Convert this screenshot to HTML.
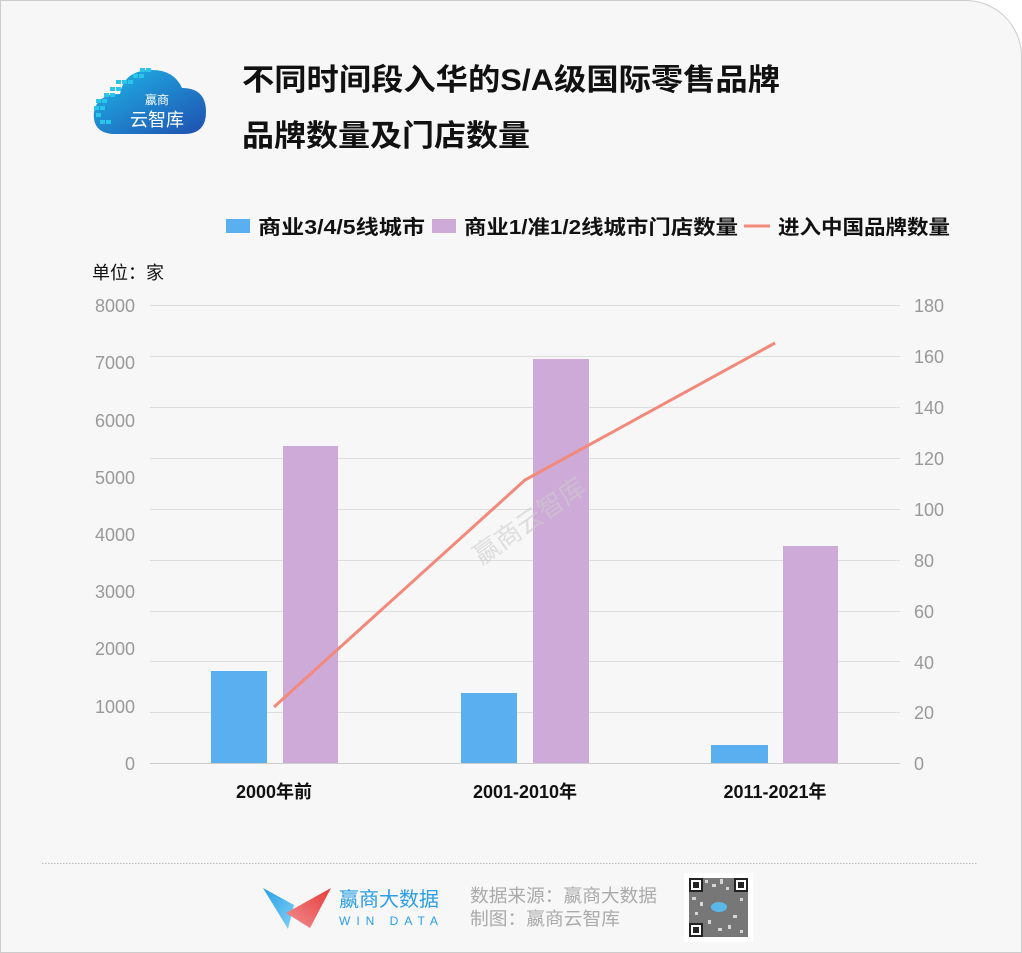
<!DOCTYPE html>
<html><head><meta charset="utf-8"><style>
html,body{margin:0;padding:0;background:#fff}
svg{display:block}
text{font-family:"Liberation Sans","Noto Sans CJK SC",sans-serif}
.t{font-family:"Liberation Sans Narrow","Liberation Sans","Noto Sans CJK SC",sans-serif;fill:#999;font-size:18px}
</style></head><body>
<svg width="1022" height="953" viewBox="0 0 1022 953" xmlns="http://www.w3.org/2000/svg">
<defs>
<linearGradient id="cg" x1="0" y1="0" x2="1" y2="1"><stop offset="0" stop-color="#1fb8e8"/><stop offset="1" stop-color="#1f4fb0"/></linearGradient>
<linearGradient id="lb" x1="0" y1="0" x2="1" y2="1"><stop offset="0" stop-color="#2a9ee6"/><stop offset="1" stop-color="#7fd0f5"/></linearGradient>
<linearGradient id="lr" x1="1" y1="0" x2="0" y2="1"><stop offset="0" stop-color="#e83a3a"/><stop offset="1" stop-color="#f09090"/></linearGradient>
</defs>
<path d="M0.5 0.5 H965 A56 56 0 0 1 1021.5 56 V952.5 H0.5 Z" fill="#f7f7f7" stroke="#ccc"/>
<g>
<path d="M112 134 Q92 132 94 112 Q97 94 120 94 Q124 70 152 70 Q174 70 182 88 Q206 88 206 112 Q206 134 184 134 Z" fill="url(#cg)"/>
<g fill="#2bc4ea">
<rect x="140" y="68" width="5" height="4"/><rect x="146" y="68" width="5" height="4"/><rect x="133" y="74" width="5" height="4"/><rect x="139" y="74" width="5" height="4"/>
<rect x="116" y="80" width="5" height="4"/><rect x="122" y="80" width="5" height="4"/><rect x="128" y="80" width="5" height="4"/><rect x="110" y="87" width="5" height="4"/><rect x="116" y="87" width="5" height="4"/><rect x="104" y="93" width="5" height="4"/><rect x="110" y="93" width="5" height="4"/><rect x="96" y="99" width="5" height="4"/><rect x="102" y="99" width="5" height="4"/><rect x="94" y="106" width="5" height="4"/><rect x="100" y="106" width="5" height="4"/><rect x="96" y="113" width="5" height="4"/><rect x="100" y="120" width="5" height="4"/><rect x="106" y="120" width="5" height="4"/>
</g>
<text x="145" y="104" font-size="12" fill="#fff">嬴商</text>
<text x="130" y="126" font-size="18" fill="#fff">云智库</text>
</g>
<text x="242" y="90" font-size="30" font-weight="bold" fill="#111" textLength="538" lengthAdjust="spacingAndGlyphs">不同时间段入华的S/A级国际零售品牌</text>
<text x="242" y="146" font-size="30" font-weight="bold" fill="#111" textLength="288" lengthAdjust="spacingAndGlyphs">品牌数量及门店数量</text>
<rect x="226" y="219" width="24" height="14" fill="#5aaff0"/>
<text x="258" y="234" font-size="20" font-weight="bold" fill="#111" textLength="167" lengthAdjust="spacingAndGlyphs">商业3/4/5线城市</text>
<rect x="432" y="219" width="24" height="14" fill="#ceaad8"/>
<text x="464" y="234" font-size="20" font-weight="bold" fill="#111" textLength="274" lengthAdjust="spacingAndGlyphs">商业1/准1/2线城市门店数量</text>
<line x1="744" y1="226" x2="770" y2="226" stroke="#f2897a" stroke-width="3"/>
<text x="778" y="234" font-size="20" font-weight="bold" fill="#111" textLength="172" lengthAdjust="spacingAndGlyphs">进入中国品牌数量</text>
<text x="92" y="279" font-size="18" fill="#111">单位：家</text>
<g stroke="#ddd" stroke-width="1">
<line x1="150" y1="305.5" x2="900" y2="305.5"/><line x1="150" y1="356.5" x2="900" y2="356.5"/><line x1="150" y1="407.5" x2="900" y2="407.5"/><line x1="150" y1="458.5" x2="900" y2="458.5"/><line x1="150" y1="509.5" x2="900" y2="509.5"/><line x1="150" y1="560.5" x2="900" y2="560.5"/><line x1="150" y1="611.5" x2="900" y2="611.5"/><line x1="150" y1="661.5" x2="900" y2="661.5"/><line x1="150" y1="712.5" x2="900" y2="712.5"/>
</g>
<line x1="150" y1="763.5" x2="900" y2="763.5" stroke="#ccc"/>
<g text-anchor="end">
<text x="135" y="312" class="t">8000</text><text x="135" y="369" class="t">7000</text><text x="135" y="427" class="t">6000</text><text x="135" y="484" class="t">5000</text><text x="135" y="541" class="t">4000</text><text x="135" y="598" class="t">3000</text><text x="135" y="655" class="t">2000</text><text x="135" y="713" class="t">1000</text><text x="135" y="770" class="t">0</text>
</g>
<g>
<text x="914" y="312" class="t">180</text><text x="914" y="363" class="t">160</text><text x="914" y="414" class="t">140</text><text x="914" y="465" class="t">120</text><text x="914" y="516" class="t">100</text><text x="914" y="567" class="t">80</text><text x="914" y="618" class="t">60</text><text x="914" y="669" class="t">40</text><text x="914" y="719" class="t">20</text><text x="914" y="770" class="t">0</text>
</g>
<g fill="#5aaff0"><rect x="211" y="671" width="56" height="92"/><rect x="461" y="693" width="56" height="70"/><rect x="711" y="745" width="57" height="18"/></g>
<g fill="#ceaad8"><rect x="283" y="446" width="55" height="317"/><rect x="533" y="359" width="56" height="404"/><rect x="783" y="546" width="55" height="217"/></g>
<text x="426" y="530" font-size="26" fill="#ccc" opacity="0.6" transform="rotate(-35 510 460)">嬴商云智库</text>
<polyline points="274,707 525,480 775,343" fill="none" stroke="#f2897a" stroke-width="3"/>
<g font-size="18" font-weight="bold" fill="#111" text-anchor="middle" style="font-family:'Liberation Sans Narrow','Liberation Sans','Noto Sans CJK SC',sans-serif">
<text x="274" y="798">2000年前</text><text x="525" y="798">2001-2010年</text><text x="775" y="798">2011-2021年</text>
</g>
<line x1="42" y1="863.5" x2="978" y2="863.5" stroke="#bbb" stroke-dasharray="1.5,1.5"/>
<polygon points="263,888 294,905 288,929" fill="url(#lb)"/>
<polygon points="331,888 286,913 310,928" fill="url(#lr)"/>
<text x="339" y="906" font-size="20" fill="#2a9ee6">嬴商大数据</text>
<text x="339" y="925" font-size="12" fill="#2a9ee6" letter-spacing="6">WIN DATA</text>
<text x="470" y="902" font-size="18" fill="#aaa" textLength="187" lengthAdjust="spacingAndGlyphs">数据来源：嬴商大数据</text>
<text x="470" y="925" font-size="18" fill="#aaa" textLength="150" lengthAdjust="spacingAndGlyphs">制图：嬴商云智库</text>
<rect x="684" y="873" width="69" height="69" fill="#fff"/>
<rect x="689" y="878" width="59" height="59" fill="#777"/>
<g fill="#fff" opacity="0.7">
<rect x="705" y="880" width="3" height="3"/><rect x="712" y="884" width="4" height="3"/><rect x="720" y="879" width="3" height="5"/><rect x="726" y="887" width="3" height="3"/><rect x="692" y="897" width="4" height="3"/><rect x="700" y="902" width="3" height="4"/><rect x="740" y="898" width="3" height="3"/><rect x="733" y="915" width="4" height="3"/><rect x="708" y="920" width="3" height="4"/><rect x="718" y="928" width="4" height="3"/><rect x="740" y="930" width="3" height="3"/><rect x="695" y="912" width="3" height="3"/><rect x="728" y="925" width="3" height="4"/>
</g>
<g fill="#222">
<rect x="689" y="878" width="14" height="14"/><rect x="734" y="878" width="14" height="14"/><rect x="689" y="923" width="14" height="14"/>
</g>
<g fill="#fff"><rect x="691" y="880" width="10" height="10"/><rect x="736" y="880" width="10" height="10"/><rect x="691" y="925" width="10" height="10"/></g>
<g fill="#222"><rect x="693" y="882" width="6" height="6"/><rect x="738" y="882" width="6" height="6"/><rect x="693" y="927" width="6" height="6"/></g>
<ellipse cx="719" cy="907" rx="8" ry="5" fill="#5ab8e8"/>
</svg>
</body></html>
